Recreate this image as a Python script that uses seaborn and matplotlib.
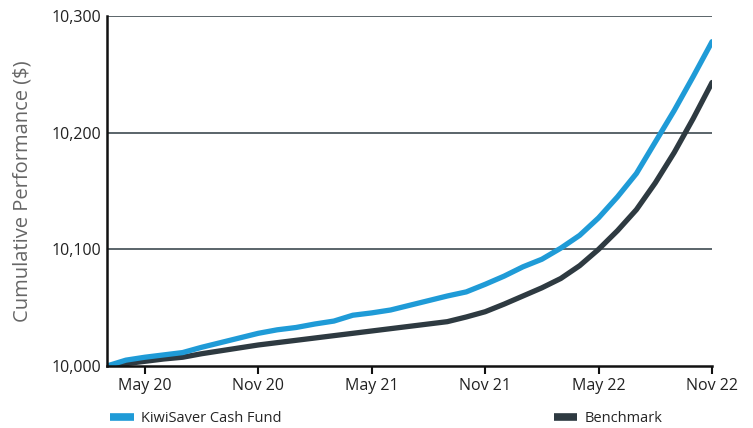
import pandas as pd
import matplotlib.pyplot as plt
import seaborn as sns
from matplotlib.lines import Line2D

# Monthly points, Mar 2020 .. Nov 2022
months = list(range(33))
cash_fund = [10000, 10005, 10007.5, 10009.5, 10011.5, 10016, 10020, 10024, 10028, 10031,
             10033, 10036, 10038.5, 10043.5, 10045.5, 10048, 10052, 10056, 10060, 10063.5,
             10070, 10077, 10085, 10091.5, 10101, 10112, 10127, 10145, 10165, 10192,
             10219, 10248, 10278]
benchmark = [10000, 10002, 10004, 10006, 10007.5, 10010.5, 10013, 10015.5, 10018, 10020,
             10022, 10024, 10026, 10028, 10030, 10032, 10034, 10036, 10038, 10042,
             10046.5, 10053, 10060, 10067, 10075, 10086, 10100, 10116, 10134, 10157,
             10183, 10212, 10243]
tick_pos = [2, 8, 14, 20, 26, 32]
tick_labels = ['May 20', 'Nov 20', 'May 21', 'Nov 21', 'May 22', 'Nov 22']
y_ticks = [10000, 10100, 10200, 10300]

blue = '#1f9bd7'
dark = '#2e3a41'

df = pd.DataFrame({'month': months, 'cash': cash_fund, 'bench': benchmark})

sns.set_theme(style="white")
plt.rcParams['font.family'] = ['Open Sans', 'DejaVu Sans']

fig = plt.figure(figsize=(7.53, 4.28), dpi=100)
ax = fig.add_axes([0.1421, 0.1449, 0.8035, 0.8177])

sns.lineplot(data=df, x='month', y='bench', color=dark, linewidth=3.8, ax=ax,
             solid_capstyle='round')
sns.lineplot(data=df, x='month', y='cash', color=blue, linewidth=3.8, ax=ax,
             solid_capstyle='round')

ax.set_xlim(0, 32)
ax.set_ylim(10000, 10300)
ax.set_yticks(y_ticks)
ax.set_yticklabels([f'{v:,}' for v in y_ticks], fontsize=11.5, color='#222222')
ax.set_xticks(tick_pos)
ax.set_xticklabels(tick_labels, fontsize=11.5, color='#222222')
ax.tick_params(axis='x', direction='out', length=6, width=1.5, color='#111111', pad=3, bottom=True)
ax.tick_params(axis='y', length=0, pad=4)

for v in y_ticks[1:]:
    ax.axhline(v, color='#2e3a41', linewidth=1.1, zorder=0.5)

for s in ['top', 'right']:
    ax.spines[s].set_visible(False)
for s in ['left', 'bottom']:
    ax.spines[s].set_color('#111111')
    ax.spines[s].set_linewidth(1.8)

ax.set_xlabel('')
ax.set_ylabel('Cumulative Performance ($)', fontsize=14.5, color='#666666', labelpad=14)

h1 = [Line2D([0], [0], color=blue, lw=5.5, solid_capstyle='butt')]
h2 = [Line2D([0], [0], color=dark, lw=5.5, solid_capstyle='butt')]
fig.legend(h1, ['KiwiSaver Cash Fund'], loc='center left', bbox_to_anchor=(0.129, 0.022),
           frameon=False, fontsize=10.5, handlelength=1.6, handletextpad=0.5)
fig.legend(h2, ['Benchmark'], loc='center left', bbox_to_anchor=(0.718, 0.022),
           frameon=False, fontsize=10.5, handlelength=1.6, handletextpad=0.5)

plt.savefig('out.png', dpi=100)
